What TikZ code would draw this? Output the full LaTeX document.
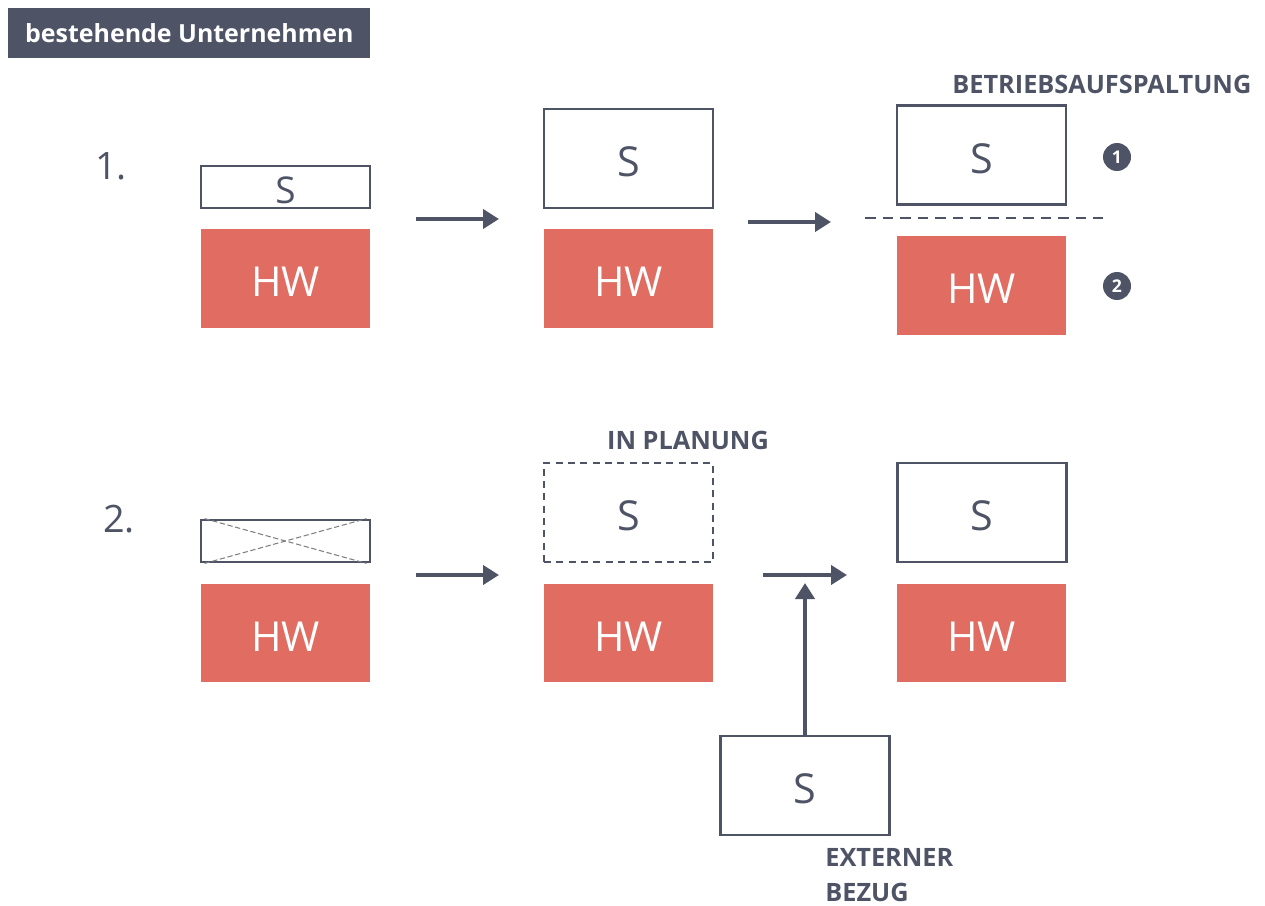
\documentclass[tikz,border=0pt]{standalone}
\usepackage{fontspec}
\setmainfont{Open Sans}
\usetikzlibrary{arrows.meta}
\definecolor{slate}{HTML}{4E5466}
\definecolor{hwred}{HTML}{E06C62}
\newcommand{\fs}[1]{\fontsize{#1}{#1}\selectfont}
% drop the glyphs a little while keeping the box size
\newcommand{\lowered}[1]{\raisebox{-0.07cm}[\height][\depth]{#1}}
\begin{document}
\begin{tikzpicture}[x=0.02cm,y=-0.02cm,
  sbox/.style={draw=slate,line width=1.6pt,fill=white,minimum width=3.38cm,minimum height=1.98cm,inner sep=0pt,text=slate,font=\fs{23.5pt}},
  sflat/.style={sbox,minimum height=0.84cm,font=\fs{21pt}},
  hwbox/.style={fill=hwred,minimum width=3.38cm,minimum height=1.98cm,inner sep=0pt,text=white,font=\fs{23.5pt}},
  arr/.style={draw=slate,line width=2.4pt,-{Triangle[length=0.32cm,width=0.38cm]}},
  lbl/.style={text=slate,font=\bfseries\fs{14.4pt},inner sep=0pt},
  num/.style={text=slate,font=\fs{21.5pt},inner sep=0pt},
  badge/.style={circle,fill=slate,minimum size=0.56cm,inner sep=0pt,text=white,font=\bfseries\fs{10pt}}
]
\useasboundingbox (0,0) rectangle (1265,906);

% section tag
\node[fill=slate,minimum width=7.24cm,minimum height=1cm,inner sep=0pt,text=white,font=\bfseries\fs{14.2pt},anchor=north west] (tag) at (8,8) {bestehende Unternehmen};

% case 1
\node[num] (n1) at (111,166) {1.};
\node[sflat] (s11) at (285.5,187) {\lowered{S}};
\node[hwbox] (h11) at (285.5,278.5) {\lowered{HW}};
\node[sbox] (s12) at (628.5,158.5) {\lowered{S}};
\node[hwbox] (h12) at (628.5,278.5) {\lowered{HW}};
\node[sbox] (s13) at (981.5,155) {\lowered{S}};
\node[hwbox] (h13) at (981.5,285.5) {\lowered{HW}};
\node[lbl,anchor=west] (split) at (952,84) {BETRIEBSAUFSPALTUNG};
\node[badge] (b1) at (1117,157) {1};
\node[badge] (b2) at (1117,286) {2};
\coordinate (d1) at (865,218);
\coordinate (d2) at (1103,218);
\draw[slate,line width=1.2pt,dash pattern=on 6pt off 4pt] (d1) -- (d2);
\coordinate (a1a) at (416,219);
\coordinate (a1b) at (499,219);
\coordinate (a2a) at (748,222);
\coordinate (a2b) at (831,222);
\draw[arr] (a1a) -- (a1b);
\draw[arr] (a2a) -- (a2b);

% case 2
\node[num] (n2) at (119,519) {2.};
\node[sflat] (s21) at (285.5,541) {};
\draw[gray,line width=0.6pt,dash pattern=on 3pt off 1.5pt] ([xshift=0.1cm]s21.north west) -- ([xshift=-0.1cm]s21.south east);
\draw[gray,line width=0.6pt,dash pattern=on 3pt off 1.5pt] ([xshift=0.1cm]s21.south west) -- ([xshift=-0.1cm]s21.north east);
\node[hwbox] (h21) at (285.5,633) {\lowered{HW}};
\node[sbox,dash pattern=on 4pt off 3pt,line width=1.3pt] (s22) at (628.5,512.5) {\lowered{S}};
\node[lbl] (plan) at (688,440) {IN PLANUNG};
\node[hwbox] (h22) at (628.5,633) {\lowered{HW}};
\node[sbox] (s23) at (982,512.5) {\lowered{S}};
\node[hwbox] (h23) at (981.5,633) {\lowered{HW}};
\node[sbox] (sx) at (805,785.5) {\lowered{S}};
\node[lbl,anchor=north west,align=left] (ext) at (825,848) {EXTERNER\\[0.2cm]BEZUG};
\coordinate (a3a) at (416,575);
\coordinate (a3b) at (499,575);
\coordinate (a4a) at (763,575);
\coordinate (a4b) at (847,575);
\draw[arr] (a3a) -- (a3b);
\draw[arr] (a4a) -- (a4b);
\coordinate (vtop) at (805,583);
\draw[arr] (sx.north) -- (vtop);
\end{tikzpicture}
\end{document}
